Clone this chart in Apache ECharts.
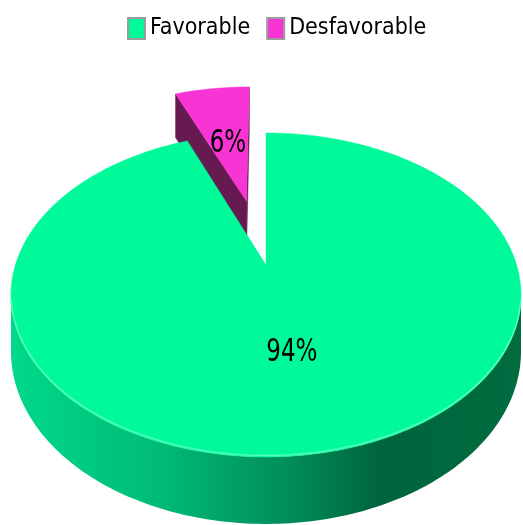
<!DOCTYPE html>
<html>
<head>
<meta charset="utf-8">
<script src="https://cdn.jsdelivr.net/npm/echarts@6/dist/echarts.min.js"></script>
<style>
  html, body { margin: 0; padding: 0; background: #ffffff; }
  #chart { width: 523px; height: 525px; }
</style>
</head>
<body>
<div id="chart"></div>
<script>
// Survey result split
const categories = ['Favorable', 'Desfavorable'];
const values = [94, 6];

// Slice appearance
const topColors = ['#00FA9A', '#F834D4'];
const sideStops = [
  [[0, '#00D98A'], [0.3, '#00BA76'], [0.55, '#008C58'], [0.72, '#00653C'], [1, '#006C40']],
  [[0, '#6A1A52'], [1, '#5E1649']]
];
const cutColors = ['#00A868', '#661A4F'];
const explode = [0, 0.45];

// Projection of the tilted disc (perspective)
const CX = 266, CY = 265, RX = 250.6, RY = 156.4, K = 0.185, DEPTH = 54.6;
const FONT = '"Liberation Sans Narrow", "DejaVu Sans Condensed", "Arial Narrow", sans-serif';

const total = values.reduce((a, b) => a + b, 0);
const starts = [];
let acc = 0;
values.forEach(v => { starts.push(acc / total * 360); acc += v; });

const rad = d => d * Math.PI / 180;

function proj(u, v, drop) {
  const s = 1 / (1 - K * v);
  return [CX + RX * u * s, CY + RY * v * s + drop * DEPTH * s];
}

function offsetOf(i) {
  const mid = rad(starts[i] + values[i] / total * 180);
  return { u: explode[i] * Math.sin(mid), v: -explode[i] * Math.cos(mid) };
}

function rim(o, deg, r, drop) {
  const t = rad(deg);
  return proj(o.u + r * Math.sin(t), o.v - r * Math.cos(t), drop);
}

function arc(o, a0, a1, drop) {
  const n = Math.max(2, Math.ceil(Math.abs(a1 - a0)));
  const pts = [];
  for (let j = 0; j <= n; j++) pts.push(rim(o, a0 + (a1 - a0) * j / n, 1, drop));
  return pts;
}

// Vertical cut face through the slice centre, culled when facing away from the viewer
function cutFace(i, o, deg, isStart) {
  const t = rad(deg);
  const n = isStart ? [-Math.cos(t), -Math.sin(t)] : [Math.cos(t), Math.sin(t)];
  const dot = (0 - o.u) * n[0] + (1 / K - o.v) * n[1];
  if (dot <= 1e-6) return null;
  return {
    type: 'polygon',
    shape: { points: [proj(o.u, o.v, 0), rim(o, deg, 1, 0), rim(o, deg, 1, 1), proj(o.u, o.v, 1)] },
    style: { fill: cutColors[i], stroke: cutColors[i], lineWidth: 0.5 }
  };
}

function renderSlice(i) {
  return function () {
    const o = offsetOf(i);
    const a0 = starts[i], a1 = starts[i] + values[i] / total * 360;
    const children = [];

    // outer wall, only the part turned toward the viewer
    const lim = Math.acos(-K) * 180 / Math.PI;
    const lo = Math.max(a0, lim), hi = Math.min(a1, 360 - lim);
    if (lo < hi) {
      const pts = arc(o, lo, hi, 0).concat(arc(o, hi, lo, 1));
      children.push({
        type: 'polygon',
        shape: { points: pts },
        style: {
          fill: new echarts.graphic.LinearGradient(CX - RX * 1.02, 0, CX + RX * 1.02, 0,
            sideStops[i].map(s => ({ offset: s[0], color: s[1] })), true)
        }
      });
    }

    const f0 = cutFace(i, o, a0, true);
    const f1 = cutFace(i, o, a1, false);
    if (f0) children.push(f0);
    if (f1) children.push(f1);

    // top face
    const top = [proj(o.u, o.v, 0)].concat(arc(o, a0, a1, 0));
    children.push({
      type: 'polygon',
      shape: { points: top },
      style: { fill: topColors[i], stroke: topColors[i], lineWidth: 0.5 }
    });

    // soft bevel along the front edge of the top face
    if (lo < hi) {
      children.push({
        type: 'polyline',
        shape: { points: arc(o, lo + 2, hi - 2, 0).map(p => [p[0], p[1] - 1.5]) },
        style: { stroke: 'rgba(110,255,200,0.7)', lineWidth: 1.6, fill: null }
      });
    }

    // percentage label
    const mid = a0 + (a1 - a0) / 2;
    const lp = rim(o, mid, 0.5, 0);
    children.push({
      type: 'text',
      x: lp[0], y: lp[1] + 3,
      scaleX: 0.8,
      style: {
        text: Math.round(values[i] / total * 100) + '%',
        fill: '#000000',
        fontSize: 32,
        fontFamily: FONT,
        align: 'center',
        verticalAlign: 'middle'
      }
    });

    return { type: 'group', children: children };
  };
}

// back slices first
const depthRank = values.map((v, i) => {
  const mid = rad(starts[i] + v / total * 180);
  return -Math.cos(mid) + offsetOf(i).v;
});

const series = categories.map((name, i) => ({
  type: 'custom',
  name: name,
  coordinateSystem: 'none',
  z: 2 + depthRank.filter(d => d < depthRank[i]).length,
  itemStyle: { color: topColors[i] },
  data: [{ name: name, value: values[i] }],
  renderItem: renderSlice(i)
}));

const chart = echarts.init(document.getElementById('chart'), null, { renderer: 'canvas' });
chart.setOption({
  animation: false,
  legend: {
    data: categories.map((c, i) => ({
      name: c,
      itemStyle: { color: topColors[i], borderColor: '#9C9C9C', borderWidth: 2 }
    })),
    icon: 'rect',
    left: 127,
    top: 17,
    padding: 0,
    itemWidth: 17,
    itemHeight: 21,
    itemGap: 16,
    textStyle: { fontFamily: FONT, fontSize: 23, lineHeight: 23, color: '#000000' }
  },
  series: series
});
</script>
</body>
</html>
